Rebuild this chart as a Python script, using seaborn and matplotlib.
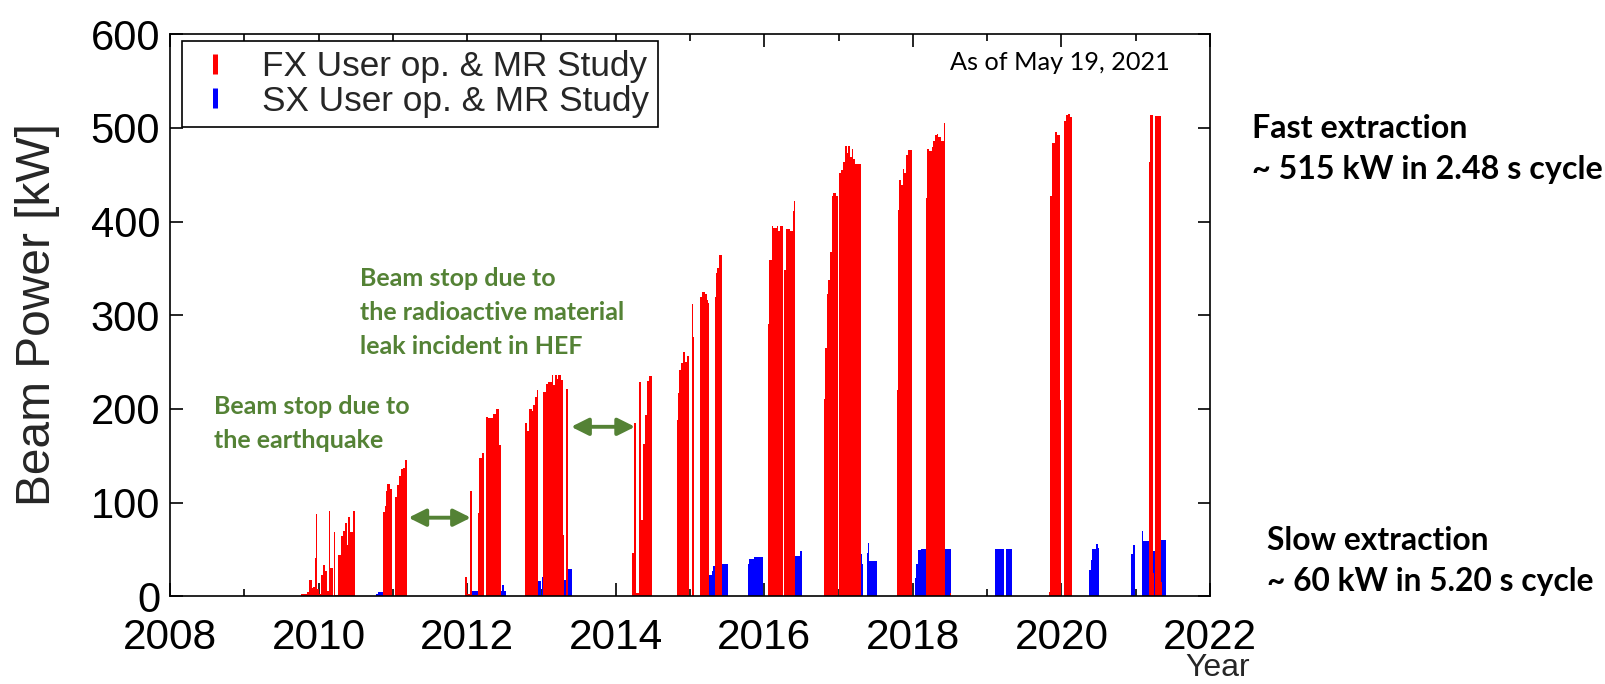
import numpy as np
import pandas as pd
import matplotlib
matplotlib.use("Agg")
import matplotlib.pyplot as plt
from matplotlib.lines import Line2D
from matplotlib.ticker import MultipleLocator
import seaborn as sns

# ---------------- data ----------------
# Step representation: power fx_kw[i] holds from fx_t[i] until fx_t[i+1]
fx_t = [
    2009.759, 2009.849, 2009.875, 2009.907, 2009.929, 2009.947, 2009.965, 2009.983, 2010.010,
    2010.028, 2010.055, 2010.086, 2010.109, 2010.135, 2010.150, 2010.198, 2010.207, 2010.225,
    2010.266, 2010.297, 2010.333, 2010.355, 2010.378, 2010.400, 2010.423, 2010.467, 2010.485,
    2010.862, 2010.889, 2010.907, 2010.925, 2010.961, 2010.992, 2011.028, 2011.051, 2011.078,
    2011.104, 2011.131, 2011.167, 2011.185,
    2011.970, 2011.993, 2012.038, 2012.065, 2012.150, 2012.163, 2012.200, 2012.231, 2012.253,
    2012.285, 2012.352, 2012.388, 2012.424, 2012.455,
    2012.778, 2012.809, 2012.836, 2012.868, 2012.890, 2012.917, 2012.935, 2012.957, 2013.025,
    2013.061, 2013.092, 2013.137, 2013.159, 2013.182, 2013.204, 2013.227, 2013.258, 2013.285,
    2013.303, 2013.325, 2013.361,
    2014.223, 2014.241, 2014.268, 2014.312, 2014.339, 2014.362, 2014.393, 2014.424, 2014.451,
    2014.487,
    2014.819, 2014.833, 2014.855, 2014.873, 2014.909, 2014.931, 2014.954, 2014.990, 2015.021,
    2015.044, 2015.060, 2015.133, 2015.156, 2015.200, 2015.223, 2015.236, 2015.259, 2015.335,
    2015.349, 2015.367, 2015.394, 2015.425,
    2016.053, 2016.067, 2016.098, 2016.121, 2016.166, 2016.188, 2016.211, 2016.246, 2016.260,
    2016.291, 2016.345, 2016.381, 2016.395, 2016.412,
    2016.802, 2016.820, 2016.838, 2016.856, 2016.883, 2016.905, 2016.928, 2016.964, 2016.992,
    2017.005, 2017.031, 2017.062, 2017.085, 2017.107, 2017.130, 2017.152, 2017.175, 2017.197,
    2017.220, 2017.296,
    2017.780, 2017.794, 2017.812, 2017.839, 2017.861, 2017.879, 2017.906, 2017.933, 2017.995,
    2018.175, 2018.193, 2018.220, 2018.251, 2018.274, 2018.296, 2018.319, 2018.341, 2018.373,
    2018.417, 2018.435,
    2018.505, 2018.518,
    2019.835, 2019.844, 2019.875, 2019.911, 2019.947, 2019.978, 2019.992, 2020.032, 2020.068,
    2020.091, 2020.122, 2020.136,
    2021.181, 2021.190, 2021.226, 2021.240, 2021.266, 2021.347, 2021.360,
]
fx_kw = [
    3, 5, 17, 9, 10, 41, 88, 8, 3,
    23, 34, 27, 6, 91, 30, 0, 69, 2,
    44, 64, 70, 78, 55, 85, 69, 91, 0,
    90, 97, 113, 120, 115, 0, 106, 119, 128,
    136, 137, 146, 0,
    21, 3, 112, 2, 89, 148, 153, 0, 191,
    190, 195, 200, 162, 0,
    185, 176, 200, 198, 204, 213, 220, 0, 218,
    227, 229, 236, 226, 236, 232, 236, 231, 65,
    0, 221, 0,
    46, 185, 4, 229, 82, 163, 194, 230, 235,
    0,
    188, 217, 242, 249, 261, 250, 257, 0, 312,
    277, 0, 320, 325, 323, 316, 313, 0, 320,
    345, 350, 364, 0,
    291, 359, 395, 393, 395, 390, 395, 0, 348,
    392, 390, 411, 422, 0,
    211, 265, 323, 338, 368, 427, 431, 427, 0,
    452, 455, 464, 481, 473, 481, 469, 478, 467,
    462, 0,
    220, 412, 444, 439, 456, 452, 471, 476, 0,
    425, 478, 475, 480, 486, 492, 494, 490, 486,
    505, 0,
    4, 0,
    5, 427, 484, 496, 492, 210, 0, 507, 514,
    515, 512, 0,
    464, 514, 25, 0, 513, 15, 0,
]

sx_t = [
    2010.063, 2010.144,
    2010.768, 2010.800, 2010.871,
    2012.040, 2012.065, 2012.150,
    2012.432, 2012.468, 2012.495, 2012.518,
    2012.944, 2012.989, 2013.002, 2013.047, 2013.159, 2013.195, 2013.307, 2013.348, 2013.406,
    2014.215, 2014.225,
    2015.259, 2015.290, 2015.312, 2015.425, 2015.515,
    2015.775, 2015.800, 2015.868, 2015.977,
    2016.389, 2016.480, 2016.502,
    2017.273, 2017.315, 2017.331, 2017.385, 2017.399, 2017.412, 2017.511,
    2018.027, 2018.040, 2018.067, 2018.112, 2018.184,
    2018.408, 2018.507,
    2019.104, 2019.225, 2019.252, 2019.329,
    2020.373, 2020.395, 2020.413, 2020.470, 2020.493, 2020.508,
    2020.943, 2020.960, 2020.988,
    2021.078, 2021.100, 2021.181,
    2021.226, 2021.266,
    2021.347, 2021.414,
]
sx_kw = [
    3, 0,
    3, 5, 0,
    3, 6, 0,
    6, 12, 6, 0,
    16, 0, 21, 0, 21, 0, 17, 29, 0,
    2, 0,
    23, 27, 32, 35, 0,
    35, 40, 42, 0,
    43, 48, 0,
    45, 35, 0, 46, 57, 38, 0,
    20, 35, 50, 51, 0,
    51, 0,
    51, 0, 51, 0,
    28, 39, 51, 56, 52, 0,
    45, 55, 0,
    70, 59, 0,
    48, 0,
    60, 0,
]

series_labels = ["FX User op. & MR Study", "SX User op. & MR Study"]
x_ticks = [2008, 2010, 2012, 2014, 2016, 2018, 2020, 2022]
y_ticks = [0, 100, 200, 300, 400, 500, 600]

# ---------------- style ----------------
sns.set_theme(style="ticks")
plt.rcParams['font.family'] = ['Liberation Sans', 'DejaVu Sans']

W, H = 1606, 684
fig = plt.figure(figsize=(W / 100, H / 100), dpi=100)
ax = fig.add_axes([170 / W, 1 - 596.4 / H, 1040 / W, 562.2 / H])

RED = (1.0, 0.0, 0.0)
BLUE = (0.0, 0.0, 1.0)


def step_frame(t, kw):
    t = np.asarray(t, float)
    kw = np.asarray(kw, float)
    return pd.DataFrame({"year": (t[:-1] + t[1:]) / 2, "kw": kw[:-1]}), t.tolist()


for t, kw, col in [(sx_t, sx_kw, BLUE), (fx_t, fx_kw, RED)]:
    df, edges = step_frame(t, kw)
    sns.histplot(data=df, x="year", weights="kw", bins=edges, stat="count",
                 element="bars", fill=True, color=col, alpha=1.0,
                 linewidth=0, ax=ax)

ax.set_xlim(2008, 2022)
ax.set_ylim(0, 600)
ax.set_xticks(x_ticks)
ax.set_xticklabels([str(v) for v in x_ticks])
ax.xaxis.set_minor_locator(MultipleLocator(1))
ax.set_yticks(y_ticks)
ax.set_yticklabels([str(v) for v in y_ticks])
ax.set_xlabel("")
ax.set_ylabel("")
ax.tick_params(axis="both", which="both", direction="in", top=True, right=True,
               colors="black", width=1.2)
ax.tick_params(axis="x", which="major", length=9.5, labelsize=30.5, pad=15.5)
ax.tick_params(axis="x", which="minor", length=5)
ax.tick_params(axis="y", which="major", length=9, labelsize=30, pad=7)
for sp in ax.spines.values():
    sp.set_visible(True)
    sp.set_color("black")
    sp.set_linewidth(1.2)
ax.set_facecolor("white")

fig.text(38 / W, 1 - 315 / H, "Beam Power [kW]", rotation=90, ha="center",
         va="center", fontsize=34.5)
fig.text(1218 / W, 0.5 / H, "Year", ha="center", va="bottom", fontsize=23)

handles = [Line2D([], [], ls="", marker="|", color=RED, ms=14.4, mew=3.6),
           Line2D([], [], ls="", marker="|", color=BLUE, ms=14.4, mew=3.6)]
leg = ax.legend(handles, series_labels, loc="upper left",
                bbox_to_anchor=(12 / 1040, 1 - 7 / 562.2), borderaxespad=0,
                prop={"size": 25.3}, frameon=True, fancybox=False, edgecolor="black",
                framealpha=1, labelspacing=0.05, borderpad=0.25,
                handlelength=1.4, handletextpad=0.62)
leg.get_frame().set_linewidth(1.2)

# arrows
GREEN = "#548235"
for (x0, x1, y) in [(2011.21, 2012.05, 84), (2013.40, 2014.26, 181)]:
    ax.annotate("", xy=(x1, y), xytext=(x0, y),
                arrowprops=dict(arrowstyle="<|-|>", color=GREEN, lw=2.8,
                                mutation_scale=26, shrinkA=0, shrinkB=0))

# ---------------- Calibri-like texts, sized to the reference widths -------------
fig.canvas.draw()
renderer = fig.canvas.get_renderer()


def fit_size(lines, widths_px, family, weight, base=20):
    ratios = []
    for s, wt in zip(lines, widths_px):
        tt = fig.text(0, 0, s, fontsize=base, family=family, weight=weight)
        ratios.append(wt / tt.get_window_extent(renderer).width)
        tt.remove()
    return base * float(np.mean(ratios))


def put_lines(lines, x_px, ys_px, size, family, weight, color):
    for s, y in zip(lines, ys_px):
        fig.text(x_px / W, 1 - y / H, s, ha="left", va="center", fontsize=size,
                 family=family, weight=weight, color=color)


CAL = ["Lato", "DejaVu Sans"]

hef = ["Beam stop due to", "the radioactive material", "leak incident in HEF"]
eq = ["Beam stop due to", "the earthquake"]
gsize = fit_size(hef + eq, [206, 240, 223, 205, 168], CAL, "bold")
put_lines(hef, 360.5, [278.6, 312.4, 346.2], gsize, CAL, "bold", GREEN)
put_lines(eq, 214, [406.6, 440.4], gsize, CAL, "bold", GREEN)

asof = "As of May 19, 2021"
put_lines([asof], 950, [62], fit_size([asof], [219], CAL, "normal"), CAL, "normal", "black")

fast = ["Fast extraction", "~ 515 kW in 2.48 s cycle"]
fsize = fit_size(fast, [217, 348], CAL, "bold")
put_lines(fast, 1252, [128, 169], fsize, CAL, "bold", "black")
slow = ["Slow extraction", "~ 60 kW in 5.20 s cycle"]
put_lines(slow, 1267, [541, 582], fit_size(slow, [217, 333], CAL, "bold"), CAL, "bold", "black")

fig.savefig("out.png", dpi=100, facecolor="white")
